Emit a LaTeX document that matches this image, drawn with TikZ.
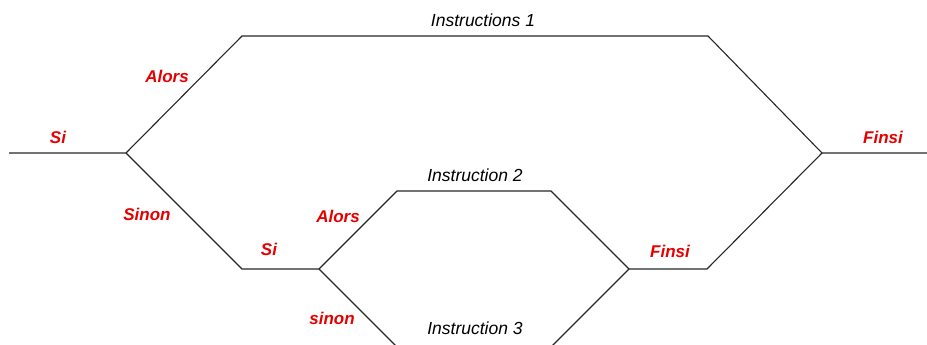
\documentclass[tikz,border=0pt]{standalone}
\usepackage{fontspec}
\setmainfont{Liberation Sans}
\begin{document}
\begin{tikzpicture}[x=1pt,y=-1pt,
  wire/.style={draw=black!85, line width=1.1pt},
  kw/.style={text=red!90!black, font=\fontsize{17}{19}\selectfont\bfseries\itshape, inner sep=0pt},
  instr/.style={text=black, font=\fontsize{17.5}{20}\selectfont\itshape, inner sep=0pt}]
\useasboundingbox (0,0) rectangle (927,345);
% junction points
\coordinate (in) at (9,153);
\coordinate (s1) at (126,153);
\coordinate (a1) at (242,36);
\coordinate (b1) at (708,36);
\coordinate (f1) at (822,153);
\coordinate (out) at (927,153);
\coordinate (n1) at (242,269);
\coordinate (s2) at (319,269);
\coordinate (a2) at (397,191);
\coordinate (b2) at (551,191);
\coordinate (f2) at (629,269);
\coordinate (e2) at (707,269);
\coordinate (c3) at (396,346);
\coordinate (d3) at (552,346);
% wires
\draw[wire] (in) -- (s1) -- (a1) -- (b1) -- (f1) -- (out);
\draw[wire] (s1) -- (n1) -- (s2) -- (a2) -- (b2) -- (f2) -- (e2) -- (f1);
\draw[wire] (s2) -- (c3);
\draw[wire] (f2) -- (d3);
% labels
\node[instr] (i1) at (483,20) {Instructions 1};
\node[kw] (alors1) at (167,76) {Alors};
\node[kw] (si1) at (58,137) {Si};
\node[kw] (finsi1) at (883,137) {Finsi};
\node[instr] (i2) at (475,175) {Instruction 2};
\node[kw] (sinon1) at (147,214) {Sinon};
\node[kw] (alors2) at (338,216) {Alors};
\node[kw] (si2) at (269,249) {Si};
\node[kw] (finsi2) at (670,251) {Finsi};
\node[kw] (sinon2) at (332,318) {sinon};
\node[instr] (i3) at (475,328) {Instruction 3};
\end{tikzpicture}
\end{document}
